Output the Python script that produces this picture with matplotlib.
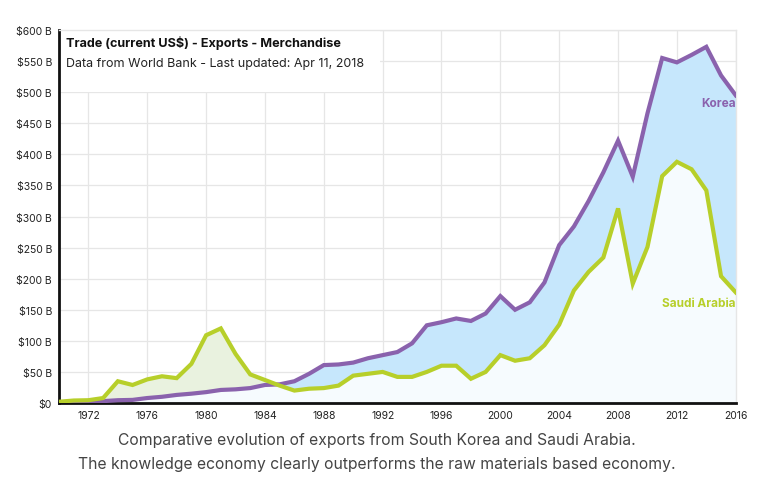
import numpy as np
import matplotlib.pyplot as plt
from matplotlib.patches import Rectangle

# -------------------------------------------------------
# Datos (miles de millones de US$)
# -------------------------------------------------------

anios = list(range(1970, 2017))

korea = [
    1, 1, 2, 3, 4.5, 5, 8, 10, 13, 15,
    17.5, 21, 22, 24, 29, 30, 35, 47, 61, 62,
    65, 72, 77, 82, 96, 125, 130, 136, 132, 144,
    172, 150, 162, 194, 254, 284, 325, 371, 422, 364,
    466, 555, 548, 560, 573, 527, 495,
]

saudi = [
    2, 4, 4.5, 8, 35, 29, 38, 43, 40, 63,
    109, 120, 79, 46, 37, 28, 20, 23, 24, 28,
    44, 47, 50, 42, 42, 50, 60, 60, 39, 50,
    77, 68, 72, 93, 126, 181, 211, 234, 313, 192,
    251, 365, 388, 376, 342, 204, 178,
]

yticks = list(range(0, 601, 50))
xticks = list(range(1972, 2017, 4))

# -------------------------------------------------------
# Estilo
# -------------------------------------------------------

plt.rcParams["font.family"] = ["Inter", "DejaVu Sans"]

MORADO = "#8a62ad"
LIMA = "#b7cf2a"
AZUL = "#c6e7fc"
VERDE = "#e9f2df"
BASE = "#f6fbfe"

x = np.array(anios)
k = np.array(korea, dtype=float)
s = np.array(saudi, dtype=float)

fig = plt.figure(figsize=(7.68, 4.85), dpi=100)
ax = fig.add_axes([0.0768, 0.167, 0.8812, 0.769])

ax.fill_between(x, 0, np.minimum(k, s), color=BASE, linewidth=0, zorder=1)
ax.fill_between(x, s, k, where=k >= s, interpolate=True,
                color=AZUL, linewidth=0, zorder=1)
ax.fill_between(x, k, s, where=s >= k, interpolate=True,
                color=VERDE, linewidth=0, zorder=1)

ax.plot(x, k, color=MORADO, linewidth=3, zorder=3, solid_joinstyle="miter")
ax.plot(x, s, color=LIMA, linewidth=3, zorder=3, solid_joinstyle="miter")

ax.set_xlim(1970, 2016)
ax.set_ylim(0, 600)

ax.set_xticks(xticks)
ax.set_yticks(yticks)
ax.set_yticklabels(["$0"] + [f"${v} B" for v in yticks[1:]])

ax.tick_params(axis="both", length=0, labelsize=7.5, colors="#222222", pad=5)

ax.grid(True, color="#e6e6e6", linewidth=0.9, zorder=0)
ax.set_axisbelow(True)

for lado in ["top", "right"]:
    ax.spines[lado].set_color("#e6e6e6")
    ax.spines[lado].set_linewidth(1)
ax.spines["left"].set_color("#111111")
ax.spines["left"].set_linewidth(2)
ax.spines["bottom"].set_color("#111111")
ax.spines["bottom"].set_linewidth(2)

# caja blanca del título
ax.add_patch(Rectangle((1970, 500.5), 21.8, 100, facecolor="white",
                       edgecolor="none", zorder=2, clip_on=False))

ax.text(1970.5, 580, "Trade (current US$) - Exports - Merchandise",
        fontsize=9.1, fontweight="bold", color="#111111", va="center", zorder=4)
ax.text(1970.5, 547, "Data from World Bank - Last updated: Apr 11, 2018",
        fontsize=9, color="#222222", va="center", zorder=4)

ax.text(2016, 483, "Korea", color=MORADO, fontsize=8.5,
        fontweight="bold", ha="right", va="center", zorder=4)
ax.text(2016, 161, "Saudi Arabia", color=LIMA, fontsize=8.5,
        fontweight="bold", ha="right", va="center", zorder=4)

fig.text(0.491, 0.092,
         "Comparative evolution of exports from South Korea and Saudi Arabia.",
         ha="center", va="center", fontsize=11.3, color="#444444")
fig.text(0.491, 0.043,
         "The knowledge economy clearly outperforms the raw materials based economy.",
         ha="center", va="center", fontsize=11.3, color="#444444")

plt.savefig("out.png", dpi=100)
plt.close()
